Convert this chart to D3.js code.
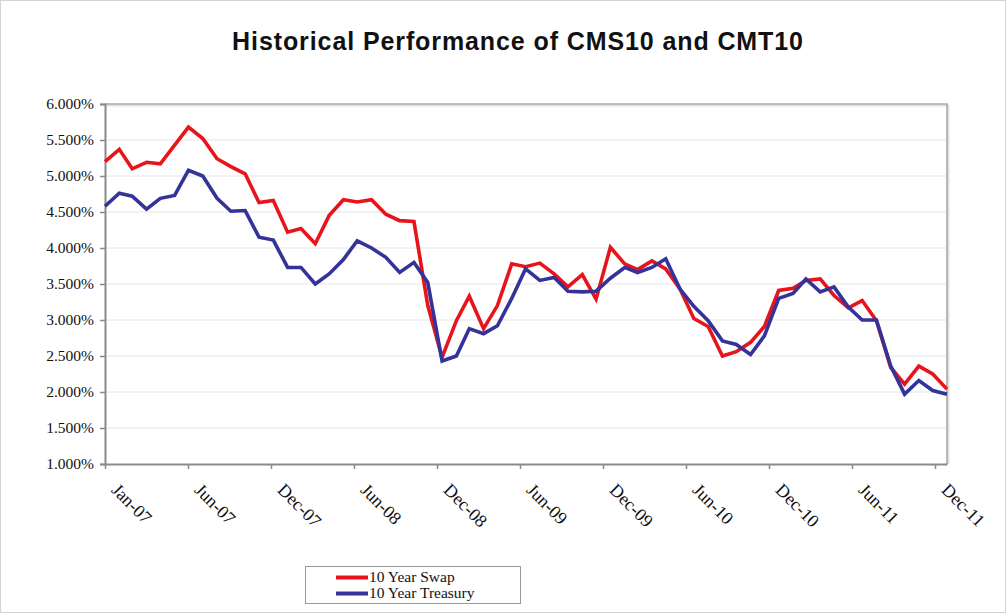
<!DOCTYPE html>
<html>
<head>
<meta charset="utf-8">
<script src="https://cdn.jsdelivr.net/npm/d3@7/dist/d3.min.js"></script>
<style>
  html, body { margin: 0; padding: 0; background: #fff; }
  svg { display: block; }
</style>
</head>
<body>
<svg id="chart" width="1006" height="613"></svg>
<script>
// ---- data ----
const months = [
  "2007-01","2007-02","2007-03","2007-04","2007-05","2007-06","2007-07","2007-08","2007-09","2007-10","2007-11","2007-12",
  "2008-01","2008-02","2008-03","2008-04","2008-05","2008-06","2008-07","2008-08","2008-09","2008-10","2008-11","2008-12",
  "2009-01","2009-02","2009-03","2009-04","2009-05","2009-06","2009-07","2009-08","2009-09","2009-10","2009-11","2009-12",
  "2010-01","2010-02","2010-03","2010-04","2010-05","2010-06","2010-07","2010-08","2010-09","2010-10","2010-11","2010-12",
  "2011-01","2011-02","2011-03","2011-04","2011-05","2011-06","2011-07","2011-08","2011-09","2011-10","2011-11","2011-12",
  "2012-01"
];
const swap10 = [
  5.20, 5.37, 5.10, 5.19, 5.17, 5.43, 5.68, 5.52, 5.24, 5.13, 5.03, 4.63,
  4.66, 4.22, 4.27, 4.06, 4.45, 4.67, 4.64, 4.67, 4.47, 4.38, 4.37, 3.20,
  2.48, 2.99, 3.33, 2.88, 3.20, 3.78, 3.74, 3.79, 3.64, 3.46, 3.63, 3.29,
  4.01, 3.78, 3.70, 3.82, 3.71, 3.43, 3.02, 2.91, 2.50, 2.56, 2.69, 2.91,
  3.41, 3.44, 3.55, 3.57, 3.34, 3.17, 3.27, 2.99, 2.34, 2.11, 2.36, 2.25,
  2.04
];
const treasury10 = [
  4.58, 4.76, 4.72, 4.54, 4.69, 4.73, 5.08, 5.00, 4.69, 4.51, 4.52, 4.15,
  4.11, 3.73, 3.73, 3.50, 3.64, 3.84, 4.10, 4.00, 3.87, 3.66, 3.80, 3.52,
  2.43, 2.50, 2.88, 2.81, 2.92, 3.30, 3.71, 3.55, 3.59, 3.40, 3.39, 3.40,
  3.58, 3.73, 3.66, 3.73, 3.85, 3.43, 3.19, 2.99, 2.71, 2.66, 2.52, 2.78,
  3.30, 3.37, 3.57, 3.39, 3.46, 3.18, 3.00, 3.00, 2.36, 1.97, 2.16, 2.02,
  1.97
];
const seriesNames = ["10 Year Swap", "10 Year Treasury"];
const xTickLabels = ["Jan-07","Jun-07","Dec-07","Jun-08","Dec-08","Jun-09","Dec-09","Jun-10","Dec-10","Jun-11","Dec-11"];
const yTickValues = [1.0, 1.5, 2.0, 2.5, 3.0, 3.5, 4.0, 4.5, 5.0, 5.5, 6.0];
const titleText = "Historical Performance of CMS10 and CMT10";

// ---- layout ----
const W = 1006, H = 613;
const plot = { left: 105, right: 947, top: 104, bottom: 464 };
const colors = ["#e8141c", "#33339a"];
const serif = "'Liberation Serif', 'Times New Roman', serif";

const svg = d3.select("#chart");
const parse = d3.utcParse("%Y-%m");
const dates = months.map(parse);

const x = d3.scaleUtc()
  .domain([dates[0], dates[dates.length - 1]])
  .range([plot.left, plot.right]);
const y = d3.scaleLinear().domain([1, 6]).range([plot.bottom, plot.top]);

// outer border
svg.append("rect").attr("x", 0.5).attr("y", 0.5).attr("width", W - 1).attr("height", H - 1)
  .attr("fill", "#fff").attr("stroke", "#d4d4d4");

// title
svg.append("text").attr("x", 518).attr("y", 50).attr("text-anchor", "middle")
  .attr("font-family", "'Liberation Sans', Arial, sans-serif").attr("font-weight", "bold")
  .attr("font-size", 25).attr("letter-spacing", 0.9).attr("fill", "#111").text(titleText);

// gridlines
svg.append("g").selectAll("line").data(yTickValues.filter(v => v > 1 && v < 6)).join("line")
  .attr("x1", plot.left).attr("x2", plot.right)
  .attr("y1", d => y(d)).attr("y2", d => y(d))
  .attr("stroke", "#e6e6e6").attr("stroke-width", 1.2);

// plot frame (top / right with soft shadow)
svg.append("path")
  .attr("d", `M${plot.left},${plot.top + 1.5}H${plot.right + 1.5}V${plot.bottom}`)
  .attr("fill", "none").attr("stroke", "#e2e2e2").attr("stroke-width", 2);
svg.append("path")
  .attr("d", `M${plot.left},${plot.top}H${plot.right}V${plot.bottom}`)
  .attr("fill", "none").attr("stroke", "#a8a8a8").attr("stroke-width", 1.6);

// y axis
const yAxis = d3.axisLeft(y).tickValues(yTickValues)
  .tickFormat(d => d3.format(".3f")(d) + "%").tickSize(5).tickPadding(6);
const gy = svg.append("g").attr("transform", `translate(${plot.left},0)`).call(yAxis);
gy.select(".domain").attr("stroke", "#8a8a8a").attr("stroke-width", 2);
gy.selectAll(".tick line").attr("stroke", "#8a8a8a").attr("stroke-width", 1.5);
gy.selectAll(".tick text").attr("font-family", serif).attr("font-size", 15.5).attr("fill", "#111");

// x axis
const tickDates = xTickLabels.map((_, i) => d3.utcDay.offset(dates[0], 180 * i));
const xAxis = d3.axisBottom(x).tickValues(tickDates)
  .tickFormat((d, i) => xTickLabels[i]).tickSize(5).tickSizeOuter(0);
const gx = svg.append("g").attr("transform", `translate(0,${plot.bottom})`).call(xAxis);
gx.select(".domain").attr("stroke", "#8a8a8a").attr("stroke-width", 2);
gx.selectAll(".tick line").attr("stroke", "#8a8a8a").attr("stroke-width", 1.5);
gx.selectAll(".tick text")
  .attr("font-family", serif).attr("font-size", 18).attr("fill", "#111")
  .attr("text-anchor", "start").attr("dy", null).attr("y", 0)
  .attr("transform", "translate(5,27) rotate(45)");

// lines
const seriesData = [swap10, treasury10];
const line = d3.line().x((d, i) => x(dates[i])).y(d => y(d));
svg.append("g").selectAll("path").data(seriesData).join("path")
  .attr("d", d => line(d))
  .attr("fill", "none")
  .attr("stroke", (d, i) => colors[i])
  .attr("stroke-width", 3.6)
  .attr("stroke-linejoin", "miter")
  .attr("stroke-miterlimit", 3);

// legend
const lg = svg.append("g").attr("transform", "translate(305,566)");
lg.append("rect").attr("x", 0.5).attr("y", 0.5).attr("width", 215).attr("height", 37)
  .attr("fill", "#fff").attr("stroke", "#9a9a9a");
seriesNames.forEach((name, i) => {
  const yy = 11.5 + i * 16;
  lg.append("line").attr("x1", 31).attr("x2", 63).attr("y1", yy).attr("y2", yy)
    .attr("stroke", colors[i]).attr("stroke-width", 4);
  lg.append("text").attr("x", 64).attr("y", yy + 4.5)
    .attr("font-family", serif).attr("font-size", 15.5).attr("fill", "#111").text(name);
});
</script>
</body>
</html>
